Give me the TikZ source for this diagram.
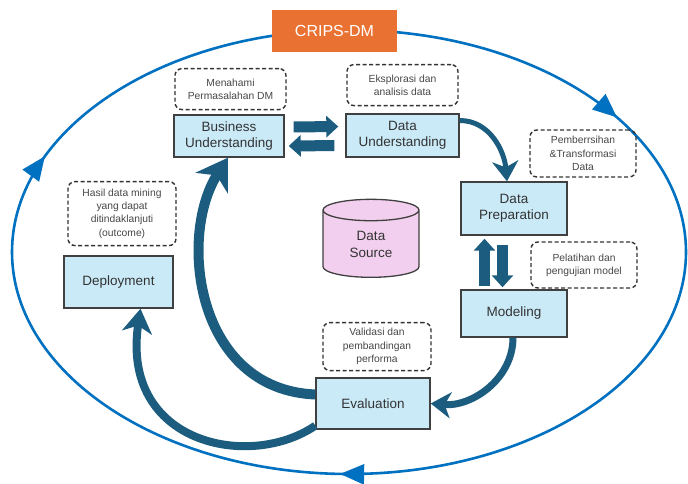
\documentclass[tikz,border=0pt]{standalone}
\usepackage{fontspec}
\setmainfont{Liberation Sans}
\usetikzlibrary{positioning,arrows.meta,shapes.geometric,decorations.markings}

\definecolor{cycleblue}{RGB}{0,112,192}
\definecolor{titleorange}{RGB}{233,113,50}
\definecolor{stagefill}{RGB}{202,234,248}
\definecolor{stageline}{RGB}{64,64,64}
\definecolor{flowblue}{RGB}{28,93,127}
\definecolor{sourcepink}{RGB}{242,207,238}
\definecolor{notetext}{RGB}{70,70,70}

\tikzset{
  stage/.style={draw=stageline, fill=stagefill, line width=1.4pt, align=center,
    inner sep=0pt, text=black!80, font=\fontsize{13.5}{15.5}\selectfont},
  note/.style={draw=black!80, dash pattern=on 4pt off 2.5pt, line width=1.4pt,
    rounded corners=7pt, align=center, inner sep=0pt, text=notetext,
    font=\fontsize{10.3}{13.3}\selectfont},
  flow/.style={draw=flowblue, line width=7pt, -{Stealth[width=26pt,length=20pt,inset=6pt]}},
  swap/.style={draw=flowblue, line width=11pt, -{Triangle[width=21pt,length=12pt]}},
  cyclehead/.tip={Triangle[width=20pt,length=24pt]},
}

\begin{document}
\begin{tikzpicture}[x=1pt,y=1pt]
\useasboundingbox (0,0) rectangle (688,483);

% outer cycle
\draw[cycleblue, line width=2.6pt, postaction={decorate}, decoration={markings,
    mark=at position 0.088 with {\arrowreversed{cyclehead}},
    mark=at position 0.442 with {\arrowreversed{cyclehead}},
    mark=at position 0.745 with {\arrowreversed{cyclehead}}}]
  (349,231) ellipse [x radius=337, y radius=222];

\node[fill=titleorange, text=white, minimum width=125pt, minimum height=42pt,
  font=\fontsize{16}{18}\selectfont] (title) at (334.5,452) {CRIPS-DM};

% stages
\node[stage, minimum width=110pt, minimum height=42pt] (bu) at (229,347) {Business\\Understanding};
\node[stage, minimum width=113pt, minimum height=43pt] (du) at (402.5,347.5) {Data\\Understanding};
\node[stage, minimum width=106pt, minimum height=53pt] (dp) at (514,274.5) {Data\\Preparation};
\node[stage, minimum width=106pt, minimum height=47pt] (mo) at (514,169.5) {Modeling};
\node[stage, minimum width=114pt, minimum height=51pt] (ev) at (373,79.5) {Evaluation};
\node[stage, minimum width=109pt, minimum height=52pt] (de) at (118.5,201) {Deployment};

\node[cylinder, shape border rotate=90, aspect=0.5, draw=stageline, fill=sourcepink,
  line width=1.3pt, minimum width=96pt, minimum height=78pt, align=center, inner sep=0pt,
  text=black!80, font=\fontsize{13.5}{17}\selectfont] (src) at (371,239) {Data\\Source};

% notes
\node[note, minimum width=111pt, minimum height=41pt, above=4pt of bu, xshift=1.5pt] (n1) {Menahami\\Permasalahan DM};
\node[note, minimum width=111pt, minimum height=41pt, above=7pt of du] (n2) {Eksplorasi dan\\analisis data};
\node[note, minimum width=106pt, minimum height=47pt] (n3) at (583,329.5) {Pemberrsihan\\\&Transformasi\\Data};
\node[note, minimum width=106pt, minimum height=46pt] (n4) at (584,218) {Pelatihan dan\\pengujian model};
\node[note, minimum width=108pt, minimum height=64pt, above=9pt of de, xshift=3.5pt] (n5) {Hasil data mining\\yang dapat\\ditindaklanjuti\\(outcome)};
\node[note, minimum width=108pt, minimum height=48pt, above=6pt of ev, xshift=4pt] (n6) {Validasi dan\\pembandingan\\performa};

% flow between stages
\draw[swap, shorten <=9pt, shorten >=7pt] ([yshift=9pt]bu.east) -- ([yshift=9pt]du.west);
\draw[swap, shorten <=11pt, shorten >=4pt] ([yshift=-10pt]du.west) -- ([yshift=-10pt]bu.east);
\draw[swap, shorten <=3pt, shorten >=3pt] ([xshift=-29.5pt]mo.north) -- ([xshift=-29.5pt]dp.south);
\draw[swap, shorten <=9pt, shorten >=2pt] ([xshift=-11.5pt]dp.south) -- ([xshift=-11.5pt]mo.north);

\draw[flow, line width=5pt] ([yshift=15pt]du.east) to[out=0, in=95] ([xshift=-7pt]dp.north);
\draw[flow] ([xshift=-1pt]mo.south) to[out=-90, in=-5] (ev.east);
\draw[flow, line width=10pt, -{Stealth[width=38pt,length=30pt,inset=9pt]}]
  ([yshift=9pt]ev.west) .. controls +(-120,5) and +(-50,-78) .. ([xshift=-1pt]bu.south);
\draw[flow, line width=8pt, -{Stealth[width=30pt,length=24pt,inset=7pt]}]
  ([yshift=4pt]ev.south west) .. controls +(-66,-45) and +(-20,-135) .. ([xshift=22pt]de.south);
\end{tikzpicture}
\end{document}
